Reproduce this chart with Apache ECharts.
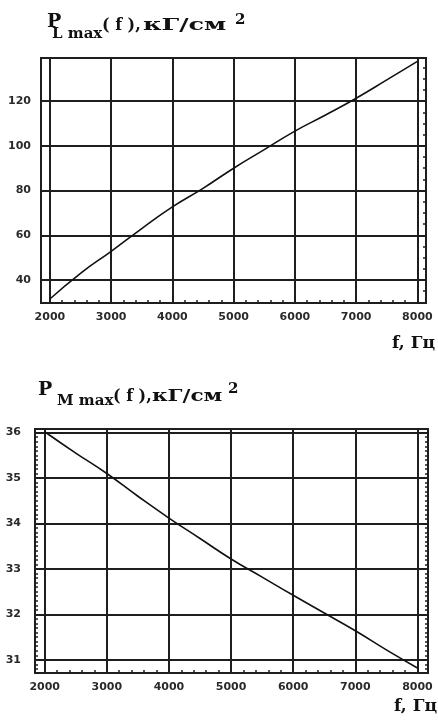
<!DOCTYPE html>
<html>
<head>
<meta charset="utf-8">
<script src="https://cdn.jsdelivr.net/npm/echarts@6/dist/echarts.min.js"></script>
<style>
  html, body { margin: 0; padding: 0; background: #fff; }
  #main { width: 438px; height: 727px; }
</style>
</head>
<body>
<div id="main"></div>
<script>
// частота, Гц
var freq = [2000, 2500, 3000, 3500, 4000, 4500, 5000, 5500, 6000, 6500, 7000, 7500, 8000];
// P_L max, кГ/см2
var pL = [31.5, 43.0, 52.8, 63.0, 72.7, 81.0, 90.0, 98.3, 106.6, 113.8, 121.3, 129.5, 137.8];
// P_M max, кГ/см2
var pM = [36.02, 35.55, 35.1, 34.6, 34.12, 33.67, 33.22, 32.82, 32.42, 32.03, 31.64, 31.22, 30.82];

var xTicks = [2000, 3000, 4000, 5000, 6000, 7000, 8000];
var yTicksL = [40, 60, 80, 100, 120];
var yTicksM = [31, 32, 33, 34, 35, 36];

function steps(a, b, d) {
  var r = [];
  for (var v = a; v <= b + 1e-9; v += d) r.push(Math.round(v * 1000) / 1000);
  return r;
}

var serif = 'DejaVu Serif';
var lblFont = { fontFamily: 'DejaVu Sans', fontWeight: 'bold', fontSize: 11, color: '#2a2a2a' };
var lineCol = '#1e1e1e';

function pairs(ys) {
  return freq.map(function (f, i) { return [f, ys[i]]; });
}

// кусок заголовка (индексы рисуем отдельными текстами)
function txt(s, x, y, size, sx) {
  return {
    type: 'text', x: x, y: y, scaleX: sx || 1, silent: true,
    style: { text: s, fill: '#111', font: 'bold ' + size + 'px "' + serif + '"', align: 'left', verticalAlign: 'top' }
  };
}

function mainX(idx, min, max, namePad) {
  return {
    type: 'value', gridIndex: idx, min: min, max: max,
    axisLine: { show: false },
    axisTick: { show: false, customValues: xTicks },
    axisLabel: Object.assign({ customValues: xTicks, margin: 9, formatter: function (v) { return String(v); } }, lblFont),
    splitLine: { show: true, lineStyle: { color: lineCol, width: 2 } },
    name: 'f, Гц', nameLocation: 'end', nameGap: 9,
    nameTextStyle: { fontFamily: serif, fontWeight: 'bold', fontSize: 17, color: '#111',
      align: 'right', verticalAlign: 'top', padding: [namePad, 0, 0, 0] }
  };
}
function minorX(idx, min, max) {
  return {
    type: 'value', gridIndex: idx, min: min, max: max, position: 'bottom',
    axisLine: { show: false },
    axisTick: { show: true, inside: true, length: 3, customValues: steps(2000, 8000, 200),
      lineStyle: { color: lineCol, width: 1.5 } },
    axisLabel: { show: false, customValues: [] },
    splitLine: { show: false }
  };
}
function mainY(idx, min, max, ticks, margin) {
  return {
    type: 'value', gridIndex: idx, min: min, max: max,
    axisLine: { show: false },
    axisTick: { show: false, customValues: ticks },
    axisLabel: Object.assign({ customValues: ticks, margin: margin }, lblFont),
    splitLine: { show: true, lineStyle: { color: lineCol, width: 2 } }
  };
}
function minorY(idx, min, max, ticks, pos) {
  return {
    type: 'value', gridIndex: idx, min: min, max: max, position: pos,
    axisLine: { show: false },
    axisTick: { show: true, inside: true, length: 3, customValues: ticks,
      lineStyle: { color: lineCol, width: 1.5 } },
    axisLabel: { show: false, customValues: [] },
    splitLine: { show: false }
  };
}

var myChart = echarts.init(document.getElementById('main'));
var option = {
  backgroundColor: '#fff',
  animation: false,
  graphic: [
    txt('P', 47, 13, 19),
    txt('L max', 52, 27, 15),
    txt('( f ),', 102, 18, 16),
    txt('кГ/см', 143, 18, 16, 1.6),
    txt('2', 235, 13, 15),

    txt('P', 38, 381, 19),
    txt('M max', 57, 394, 15),
    txt('( f ),', 113, 389, 16),
    txt('кГ/см', 152, 389, 16, 1.35),
    txt('2', 228, 382, 15)
  ],
  grid: [
    { left: 41, top: 58, width: 385, height: 245, show: true, borderColor: lineCol, borderWidth: 2, backgroundColor: '#fff' },
    { left: 35, top: 429, width: 394, height: 244, show: true, borderColor: lineCol, borderWidth: 2, backgroundColor: '#fff' }
  ],
  xAxis: [
    mainX(0, 1855, 8140, 32),
    minorX(0, 1855, 8140),
    mainX(1, 1844, 8170, 25),
    minorX(1, 1844, 8170)
  ],
  yAxis: [
    mainY(0, 29.7, 139.3, yTicksL, 10),
    minorY(0, 29.7, 139.3, steps(35, 135, 5), 'right'),
    mainY(1, 30.71, 36.08, yTicksM, 14),
    minorY(1, 30.71, 36.08, steps(30.8, 36, 0.1), 'left'),
    minorY(1, 30.71, 36.08, steps(30.8, 36, 0.1), 'right')
  ],
  series: [
    { type: 'line', xAxisIndex: 0, yAxisIndex: 0, data: pairs(pL), smooth: true, showSymbol: false,
      lineStyle: { color: '#111', width: 1.6 } },
    { type: 'line', xAxisIndex: 2, yAxisIndex: 2, data: pairs(pM), smooth: true, showSymbol: false,
      lineStyle: { color: '#111', width: 1.6 } }
  ]
};
myChart.setOption(option);
</script>
</body>
</html>
